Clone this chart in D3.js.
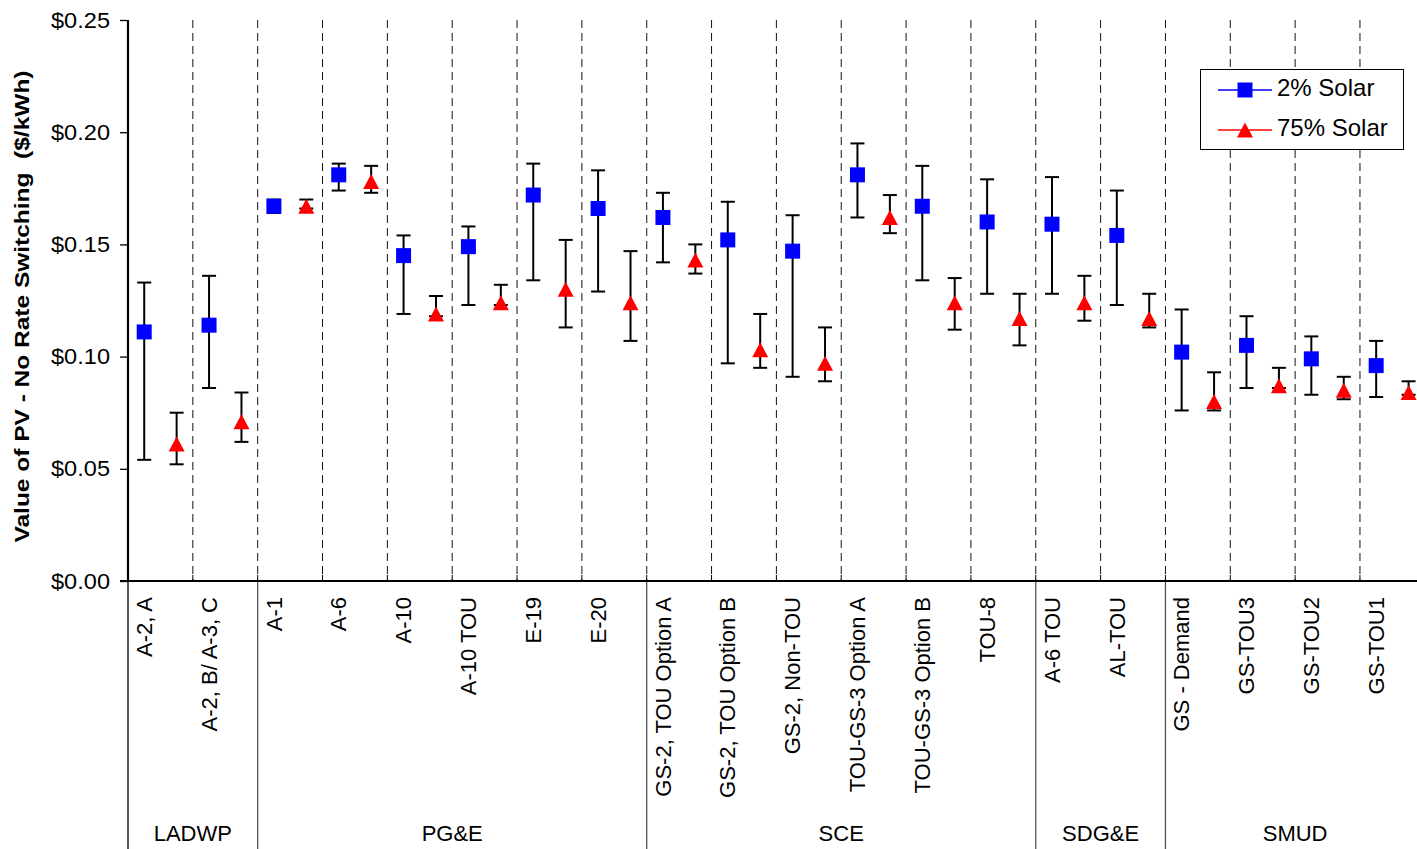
<!DOCTYPE html>
<html><head><meta charset="utf-8">
<script src="https://cdn.jsdelivr.net/npm/d3@7"></script>
<style>
body{margin:0;background:#fff;}
svg{display:block;font-family:"Liberation Sans",Arial,sans-serif;}
</style>
</head><body>
<svg id="chart" width="1417" height="849"></svg>
<script>
const categories = ["A-2, A","A-2, B/ A-3, C","A-1","A-6","A-10","A-10 TOU","E-19","E-20",
  "GS-2, TOU Option A","GS-2, TOU Option B","GS-2, Non-TOU","TOU-GS-3 Option A","TOU-GS-3 Option B","TOU-8",
  "A-6 TOU","AL-TOU","GS - Demand","GS-TOU3","GS-TOU2","GS-TOU1"];
const groups = ["LADWP","PG&E","SCE","SDG&E","SMUD"];
const groupSizes = [2,6,6,2,4];
const seriesNames = ["2% Solar","75% Solar"];

const solar2     = [0.111,0.114,0.167,0.181,0.145,0.149,0.172,0.166,0.162,0.152,0.147,0.181,0.167,0.160,0.159,0.154,0.102,0.105,0.099,0.096];
const solar2Low  = [0.054,0.086,0.164,0.174,0.119,0.123,0.134,0.129,0.142,0.097,0.091,0.162,0.134,0.128,0.128,0.123,0.076,0.086,0.083,0.082];
const solar2High = [0.133,0.136,0.170,0.186,0.154,0.158,0.186,0.183,0.173,0.169,0.163,0.195,0.185,0.179,0.180,0.174,0.121,0.118,0.109,0.107];

const solar75     = [0.061,0.071,0.167,0.178,0.119,0.124,0.130,0.124,0.143,0.103,0.097,0.162,0.124,0.117,0.124,0.117,0.080,0.087,0.085,0.084];
const solar75Low  = [0.052,0.062,0.166,0.173,0.118,0.123,0.113,0.107,0.137,0.095,0.089,0.155,0.112,0.105,0.116,0.113,0.076,0.086,0.081,0.083];
const solar75High = [0.075,0.084,0.170,0.185,0.127,0.132,0.152,0.147,0.150,0.119,0.113,0.172,0.135,0.128,0.136,0.128,0.093,0.095,0.091,0.089];

const yTicks = [0,0.05,0.10,0.15,0.20,0.25];
const yTitle = "Value of PV - No Rate Switching  ($/kWh)";

const svg = d3.select("#chart");
const W = 1417, H = 849;
const pLeft = 128, pTop = 20, pBottom = 581, pRight = 128 + 20*64.84;

const x = d3.scaleBand().domain(categories).range([pLeft, pRight]).padding(0);
const bw = x.bandwidth();
const y = d3.scaleLinear().domain([0,0.25]).range([pBottom, pTop]);

// dashed category separators
svg.append("g").selectAll("line").data(categories.slice(1)).join("line")
  .attr("x1", d => x(d)).attr("x2", d => x(d))
  .attr("y1", y(0.25)).attr("y2", y(0))
  .attr("stroke", "#111").attr("stroke-width", 1).attr("stroke-dasharray", "8,5");

// group separators below axis
const groupInfo = [];
let acc = 0;
groupSizes.forEach((n,i) => { groupInfo.push({name: groups[i], start: acc, end: acc + n}); acc += n; });
const gx = g => x(categories[g.start]);
const gxEnd = g => g.end < categories.length ? x(categories[g.end]) : pRight;

svg.append("g").selectAll("line").data(groupInfo).join("line")
  .attr("x1", gx).attr("x2", gx)
  .attr("y1", pBottom).attr("y2", H)
  .attr("stroke", (d,i) => i === 0 ? "#000" : "#555").attr("stroke-width", 1.3);

// x tick marks at boundaries (pointing up)
svg.append("g").selectAll("line").data(categories.slice(1)).join("line")
  .attr("x1", d => x(d)).attr("x2", d => x(d))
  .attr("y1", pBottom - 6).attr("y2", pBottom)
  .attr("stroke", "#000").attr("stroke-width", 1);

// y axis
const yAxis = svg.append("g").attr("transform", `translate(${pLeft},0)`)
  .call(d3.axisLeft(y).tickValues(yTicks).tickFormat(d3.format("$.2f")).tickSize(8).tickPadding(10));
yAxis.select(".domain").attr("stroke", "#000").attr("stroke-width", 2.2).attr("d", `M0,${pTop}V${pBottom}`);
yAxis.selectAll(".tick line").attr("stroke", "#000").attr("stroke-width", 1.3);
yAxis.selectAll(".tick text").attr("font-size", 22).attr("font-family", "Liberation Sans, Arial, sans-serif")
  .attr("fill", "#000").attr("textLength", 59).attr("lengthAdjust", "spacingAndGlyphs");

// x axis line
svg.append("line").attr("x1", pLeft - 8).attr("x2", pRight).attr("y1", pBottom).attr("y2", pBottom)
  .attr("stroke", "#000").attr("stroke-width", 2.2);

// y title
svg.append("text")
  .attr("transform", `translate(22,${(pTop+pBottom)/2 + 6}) rotate(-90)`)
  .attr("text-anchor", "middle").attr("dy", "0.35em")
  .attr("font-size", 21).attr("font-weight", "bold")
  .attr("textLength", 472).attr("lengthAdjust", "spacingAndGlyphs")
  .style("white-space", "pre")
  .text(yTitle);

// category labels
svg.append("g").selectAll("text").data(categories).join("text")
  .attr("transform", d => `translate(${x(d) + bw*0.25},${pBottom + 16}) rotate(-90)`)
  .attr("text-anchor", "end").attr("dy", "0.35em")
  .attr("font-size", 22).text(d => d);

// group labels
svg.append("g").selectAll("text").data(groupInfo).join("text")
  .attr("x", d => (gx(d) + Math.min(gxEnd(d), W + 8)) / 2)
  .attr("y", 841).attr("text-anchor", "middle")
  .attr("font-size", 22).text(d => d.name);

// error bars
function errorBars(vals, lo, hi, off) {
  const g = svg.append("g").attr("stroke", "#000").attr("stroke-width", 2);
  const cx = (d,i) => x(categories[i]) + bw*off;
  g.selectAll(".v").data(vals).join("line").attr("class","v")
    .attr("x1", cx).attr("x2", cx)
    .attr("y1", (d,i) => y(lo[i])).attr("y2", (d,i) => y(hi[i]));
  g.selectAll(".t").data(vals).join("line").attr("class","t")
    .attr("x1", (d,i) => cx(d,i) - 7).attr("x2", (d,i) => cx(d,i) + 7)
    .attr("y1", (d,i) => y(hi[i])).attr("y2", (d,i) => y(hi[i]));
  g.selectAll(".b").data(vals).join("line").attr("class","b")
    .attr("x1", (d,i) => cx(d,i) - 7).attr("x2", (d,i) => cx(d,i) + 7)
    .attr("y1", (d,i) => y(lo[i])).attr("y2", (d,i) => y(lo[i]));
}
errorBars(solar2, solar2Low, solar2High, 0.25);
errorBars(solar75, solar75Low, solar75High, 0.75);

function triPath(cx, cy) {
  return `M${cx},${cy-7.5}L${cx+8},${cy+7.5}L${cx-8},${cy+7.5}Z`;
}
// markers
svg.append("g").selectAll("rect").data(solar2).join("rect")
  .attr("x", (d,i) => x(categories[i]) + bw*0.25 - 7.5)
  .attr("y", d => y(d) - 7.5)
  .attr("width", 15).attr("height", 15).attr("fill", "#0000ff");
svg.append("g").selectAll("path").data(solar75).join("path")
  .attr("d", (d,i) => triPath(x(categories[i]) + bw*0.75, y(d)))
  .attr("fill", "#ff0000");

// legend
const lg = svg.append("g");
lg.append("rect").attr("x", 1200.5).attr("y", 69.5).attr("width", 203).attr("height", 80)
  .attr("fill", "#fff").attr("stroke", "#000").attr("stroke-width", 1);
const legendRows = [{name: seriesNames[0], color: "#0000ff", ly: 90}, {name: seriesNames[1], color: "#ff0000", ly: 130}];
legendRows.forEach((r, i) => {
  lg.append("line").attr("x1", 1218).attr("x2", 1272).attr("y1", r.ly).attr("y2", r.ly)
    .attr("stroke", r.color).attr("stroke-width", 1.5);
  if (i === 0) {
    lg.append("rect").attr("x", 1245 - 7.5).attr("y", r.ly - 7.5).attr("width", 15).attr("height", 15).attr("fill", r.color);
  } else {
    lg.append("path").attr("d", triPath(1245, r.ly)).attr("fill", r.color);
  }
  lg.append("text").attr("x", 1277).attr("y", r.ly + 6)
    .attr("font-size", 24).text(r.name);
});
</script>
</body></html>
